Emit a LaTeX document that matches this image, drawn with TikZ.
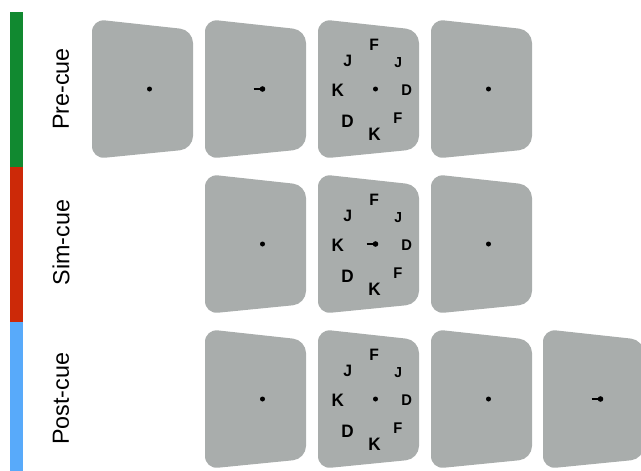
\documentclass[tikz,border=0pt]{standalone}
\usepackage{fontspec}
\setmainfont{Liberation Sans}
\definecolor{screenfill}{RGB}{169,173,172}
\definecolor{barGreen}{RGB}{17,137,48}
\definecolor{barRed}{RGB}{204,41,8}
\definecolor{barBlue}{RGB}{88,170,250}
\tikzset{
  screen/.pic={\fill[screenfill, rounded corners=13pt] (0,0) -- (101,11) -- (101,130) -- (0,140) -- cycle;},
  fixdot/.pic={\fill (57.5,70) circle (2.5);},
  cuearrow/.pic={\draw[line width=2.2pt] (48.5,70) -- (57.5,70); \fill (57.5,70) circle (2.8);},
  ltr/.style={inner sep=0pt, font=\bfseries\fontsize{#1}{#1}\selectfont, xscale=0.95},
  letters/.pic={
    \node[ltr=16.5] (f1) at (56.1,26.3) {F};
    \node[ltr=16.5] (j1) at (29.8,41.5) {J};
    \node[ltr=14.5] (j2) at (80.1,44)   {J};
    \node[ltr=18]   (k1) at (19.8,71)   {K};
    \node[ltr=15.5] (d1) at (88.8,71)   {D};
    \node[ltr=18]   (d2) at (29.5,102)  {D};
    \node[ltr=15.5] (f2) at (79.8,99.3) {F};
    \node[ltr=18]   (k2) at (56.5,115.5){K};
  },
  label/.style={rotate=90, inner sep=0pt, font=\fontsize{23.3}{28}\selectfont}
}
\begin{document}
\begin{tikzpicture}[x=1pt,y=-1pt]
\useasboundingbox (0,0) rectangle (641,471);
% condition bars
\fill[barGreen] (10,12) rectangle (23,167);
\fill[barRed] (10,167) rectangle (23,322);
\fill[barBlue] (10,322) rectangle (23,471);
\node[label] (pre) at (61,89) {Pre-cue};
\node[label] (sim) at (61,242.5) {Sim-cue};
\node[label] (post) at (61,399) {Post-cue};
% row 1: pre-cue
\pic (a1) at (92,19) {screen};   \pic (a1d) at (92,19) {fixdot};
\pic (a2) at (205,19) {screen};  \pic (a2c) at (205,19) {cuearrow};
\pic (a3) at (318,19) {screen};  \pic (a3d) at (318,19) {fixdot}; \pic (a3l) at (318,19) {letters};
\pic (a4) at (431,19) {screen};  \pic (a4d) at (431,19) {fixdot};
% row 2: sim-cue
\pic (b2) at (205,174) {screen}; \pic (b2d) at (205,174) {fixdot};
\pic (b3) at (318,174) {screen}; \pic (b3c) at (318,174) {cuearrow}; \pic (b3l) at (318,174) {letters};
\pic (b4) at (431,174) {screen}; \pic (b4d) at (431,174) {fixdot};
% row 3: post-cue
\pic (c2) at (205,329) {screen}; \pic (c2d) at (205,329) {fixdot};
\pic (c3) at (318,329) {screen}; \pic (c3d) at (318,329) {fixdot}; \pic (c3l) at (318,329) {letters};
\pic (c4) at (431,329) {screen}; \pic (c4d) at (431,329) {fixdot};
\pic (c5) at (543,329) {screen}; \pic (c5c) at (543,329) {cuearrow};
\end{tikzpicture}
\end{document}
